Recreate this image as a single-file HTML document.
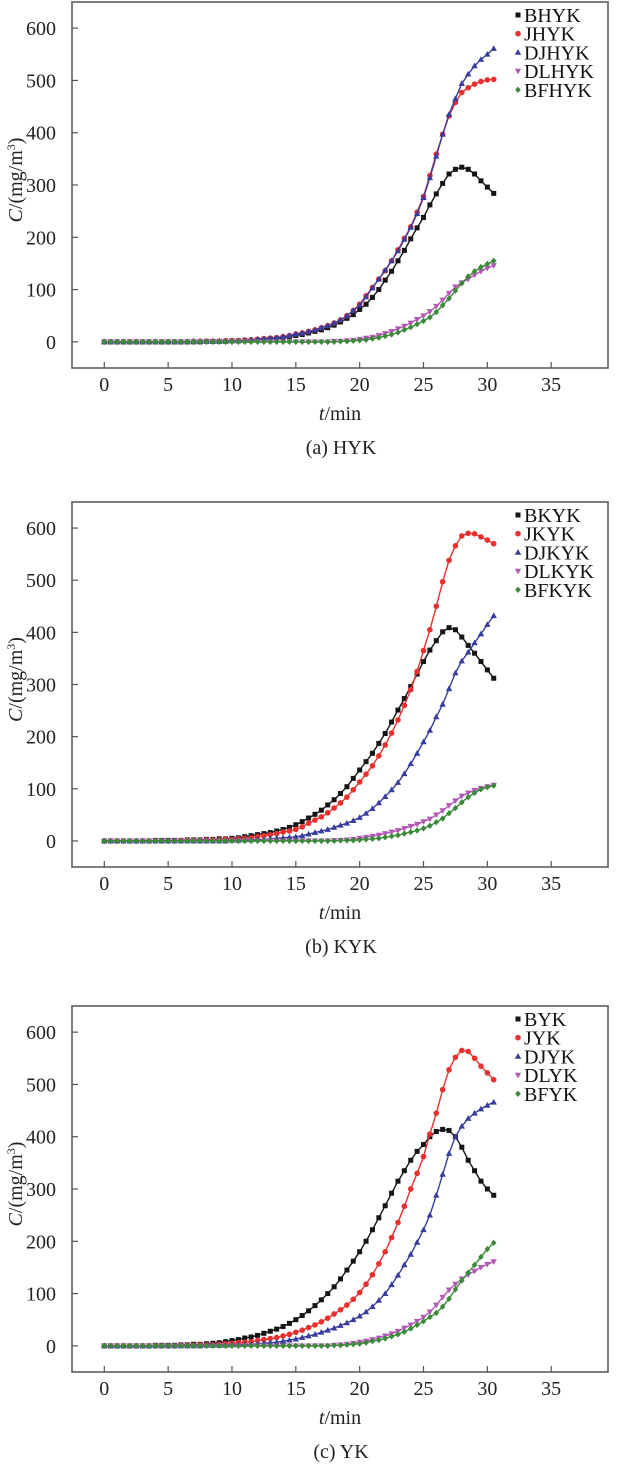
<!DOCTYPE html>
<html><head><meta charset="utf-8"><style>
html,body{margin:0;padding:0;background:#fff;}
svg{display:block;font-family:"Liberation Serif",serif;}
</style></head><body>
<svg id="fig" width="629" height="1475" viewBox="0 0 629 1475" xmlns="http://www.w3.org/2000/svg"></svg>
<script>
const times=[0,0.5,1,1.5,2,2.5,3,3.5,4,4.5,5,5.5,6,6.5,7,7.5,8,8.5,9,9.5,10,10.5,11,11.5,12,12.5,13,13.5,14,14.5,15,15.5,16,16.5,17,17.5,18,18.5,19,19.5,20,20.5,21,21.5,22,22.5,23,23.5,24,24.5,25,25.5,26,26.5,27,27.5,28,28.5,29,29.5,30,30.5];
const xTicks=[0,5,10,15,20,25,30,35];
const yTicks=[0,100,200,300,400,500,600];
const seriesNamesA=["BHYK","JHYK","DJHYK","DLHYK","BFHYK"];
const seriesNamesB=["BKYK","JKYK","DJKYK","DLKYK","BFKYK"];
const seriesNamesC=["BYK","JYK","DJYK","DLYK","BFYK"];
// chart (a) HYK
const aB=[0,0,0,0,0,0,0,0,0,0,0,0,0,0,0,0,1,1,1,1, 2,2,3,3,4,5,6,7,8,10,12,14,17,20,23,27,32,38,45,52, 62,72,85,100,118,135,155,175,197,218,238,262,283,303,321,330,334,330,321,308,296,284];
const aJ=[0,0,0,0,0,0,0,0,0,0,0,0,0,0,1,1,1,1,1,2, 2,2,3,4,5,6,7,8,10,12,15,17,20,23,27,31,36,42,50,60, 72,88,104,120,136,155,176,198,220,248,278,318,359,397,432,458,477,486,493,498,501,502];
const aDJ=[0,0,0,0,0,0,0,0,0,0,0,0,0,0,1,1,1,1,1,2, 2,2,3,4,5,6,7,8,10,12,15,17,20,23,27,31,36,42,50,60, 70,86,103,120,137,155,174,196,219,245,276,314,355,397,435,465,494,512,528,540,550,561];
const aDL=[0,0,0,0,0,0,0,0,0,0,0,0,0,0,0,0,0,0,0,0,0,0,0,0,0,0,0,0,0,0,0,0,0,0,0,0, 1,1,2,3, 5,7,9,12,16,20,25,30,36,43,50,58,68,80,93,105,113,120,128,135,141,146];
const aBF=[0,0,0,0,0,0,0,0,0,0,0,0,0,0,0,0,0,0,0,0,0,0,0,0,0,0,0,0,0,0,0,0,0,0,0,0, 0,1,1,2, 3,4,6,8,11,14,18,23,28,34,40,47,57,70,83,98,112,125,135,143,149,155];
// chart (b) KYK
const bB=[0,0,0,0,0,0,0,0,1,1,1,1,1,2,2,2,3,3,4,4, 5,6,8,10,12,14,16,19,22,26,31,37,44,51,59,69,79,91,104,120, 136,152,168,187,206,228,251,273,296,320,344,366,384,401,409,405,391,375,360,344,328,312];
const bJ=[0,0,0,0,0,0,0,0,0,0,0,0,1,1,1,1,2,2,2,3, 3,4,5,6,8,10,12,14,17,19,22,27,34,40,46,54,63,73,84,98, 113,128,144,163,184,207,232,260,290,325,365,405,450,497,538,566,585,590,589,583,577,570];
const bDJ=[0,0,0,0,0,0,0,0,0,0,0,0,0,0,0,0,0,0,0,0, 1,1,2,2,3,3,4,5,6,7,8,10,13,16,19,22,26,30,34,39, 45,53,62,73,85,98,112,129,148,168,190,212,238,262,292,322,345,362,380,397,415,432];
const bDL=[0,0,0,0,0,0,0,0,0,0,0,0,0,0,0,0,0,0,0,0,0,0,0,0,0,0,0,0,0,0,0,0,0,0,0,0, 1,1,2,3, 5,7,9,11,14,17,20,24,28,32,37,42,50,58,68,77,86,92,97,101,104,107];
const bBF=[0,0,0,0,0,0,0,0,0,0,0,0,0,0,0,0,0,0,0,0,0,0,0,0,0,0,0,0,0,0,0,0,0,0,0,0, 0,1,1,1, 2,3,4,5,7,9,11,14,17,20,24,29,36,43,53,63,74,84,92,99,103,106];
// chart (c) YK
const cB=[0,0,0,0,0,0,0,0,1,1,1,1,2,2,3,3,4,5,6,8, 10,12,15,17,20,24,28,32,37,43,50,58,67,77,88,100,113,128,145,162, 180,200,222,245,268,292,315,335,355,372,385,400,410,414,412,400,380,355,335,315,300,288];
const cJ=[0,0,0,0,0,0,0,0,0,0,0,0,1,1,1,2,2,2,3,4, 5,6,7,8,10,12,14,16,19,22,26,30,35,40,46,53,61,69,78,89, 102,118,136,157,180,207,236,267,300,330,362,405,445,490,528,552,565,563,550,535,522,509];
const cDJ=[0,0,0,0,0,0,0,0,0,0,0,0,0,0,0,0,1,1,1,1, 2,2,3,3,4,5,6,7,9,11,13,16,19,22,26,30,34,39,44,50, 57,65,75,87,100,117,135,155,175,198,222,250,288,328,368,400,420,435,445,453,460,466];
const cDL=[0,0,0,0,0,0,0,0,0,0,0,0,0,0,0,0,0,0,0,0,0,0,0,0,0,0,0,0,0,0,0,0,0,0,0,0, 1,2,3,5, 7,9,12,15,19,23,28,34,40,47,55,65,78,93,107,118,128,136,143,150,156,161];
const cBF=[0,0,0,0,0,0,0,0,0,0,0,0,0,0,0,0,0,0,0,0,0,0,0,0,0,0,0,0,0,0,0,0,0,0,0,0, 1,1,2,3, 4,6,9,11,14,18,22,27,33,40,47,55,63,75,90,108,125,140,155,170,185,197];

const NS="http://www.w3.org/2000/svg";
const svg=document.getElementById('fig');
const colors=["#141414","#e8302e","#383c9c","#b258b5","#3a8a3a"];
const shapes=["square","circle","up","down","diamond"];
function mk(tag,attrs,parent){const e=document.createElementNS(NS,tag);for(const k in attrs)e.setAttribute(k,attrs[k]);(parent||svg).appendChild(e);return e;}
function marker(g,shape,x,y,c){
  let e;
  if(shape==="square")e=mk('rect',{x:x-2.5,y:y-2.5,width:5,height:5,fill:c},g);
  else if(shape==="circle")e=mk('circle',{cx:x,cy:y,r:2.8,fill:c},g);
  else if(shape==="up")e=mk('polygon',{points:`${x},${y-3.3} ${x-3.2},${y+2.4} ${x+3.2},${y+2.4}`,fill:c},g);
  else if(shape==="down")e=mk('polygon',{points:`${x},${y+3.3} ${x-3.2},${y-2.4} ${x+3.2},${y-2.4}`,fill:c},g);
  else e=mk('polygon',{points:`${x},${y-3.2} ${x+2.8},${y} ${x},${y+3.2} ${x-2.8},${y}`,fill:c},g);
  return e;
}
function drawChart(id,top,bottom,names,data,caption){
  const left=72,right=608;
  const xMin=-2.53,xMax=39.45,yMin=-50,yMax=650;
  const X=v=>left+(v-xMin)/(xMax-xMin)*(right-left);
  const Y=v=>bottom-(v-yMin)/(yMax-yMin)*(bottom-top);
  const g=mk('g',{});
  
  
  const frame=mk('rect',{x:left,y:top,width:right-left,height:bottom-top,fill:'none',stroke:'#555',"stroke-width":1.5},g);
  
  
  xTicks.forEach(t=>{
    const tk=mk('line',{x1:X(t),x2:X(t),y1:bottom,y2:bottom-6,stroke:'#555',"stroke-width":1.2},g);
    
    
    const tl=mk('text',{x:X(t),y:bottom+23,"font-size":20,"text-anchor":"middle",fill:'#222'},g);
    tl.textContent=t;
    
    
  });
  yTicks.forEach(t=>{
    const tk=mk('line',{x1:left,x2:left+6,y1:Y(t),y2:Y(t),stroke:'#555',"stroke-width":1.2},g);
    
    
    const tl=mk('text',{x:56,y:Y(t)+7,"font-size":20,"text-anchor":"end",fill:'#222'},g);
    tl.textContent=t;
    
    
  });
  const cy=(top+bottom)/2-5;
  const yt=mk('text',{x:0,y:0,"font-size":20,"text-anchor":"middle",fill:'#222',transform:`translate(22,${cy}) rotate(-90)`},g);
  yt.innerHTML='<tspan font-style="italic">C</tspan>/(mg/m<tspan font-size="12" dy="-7">3</tspan><tspan dy="7">)</tspan>';
  
  
  const xt=mk('text',{x:340,y:bottom+52,"font-size":20,"text-anchor":"middle",fill:'#222'},g);
  xt.innerHTML='<tspan font-style="italic">t</tspan>/min';
  
  
  const cap=mk('text',{x:341,y:bottom+86,"font-size":20,"text-anchor":"middle",fill:'#222'},g);
  cap.textContent=caption;
  
  
  data.forEach((vals,si)=>{
    const sg=mk('g',{},g);
    
    
    const pts=vals.map((v,i)=>X(times[i]).toFixed(1)+','+Y(v).toFixed(1)).join(' ');
    const pl=mk('polyline',{points:pts,fill:'none',stroke:colors[si],"stroke-width":1.4},sg);
    
    
    vals.forEach((v,i)=>{
      const m=marker(sg,shapes[si],X(times[i]),Y(v),colors[si]);
      
      
    });
    const ly=top+13+si*18.7;
    const lg=mk('g',{},g);
    
    
    marker(lg,shapes[si],518,ly,colors[si]);
    const lt=mk('text',{x:524,y:ly+7,"font-size":20,fill:'#111'},lg);
    lt.textContent=names[si];
  });
}
drawChart('a',2,368,seriesNamesA,[aB,aJ,aDJ,aDL,aBF],'(a) HYK');
drawChart('b',502,867,seriesNamesB,[bB,bJ,bDJ,bDL,bBF],'(b) KYK');
drawChart('c',1006,1372,seriesNamesC,[cB,cJ,cDJ,cDL,cBF],'(c) YK');
</script>
</body></html>
